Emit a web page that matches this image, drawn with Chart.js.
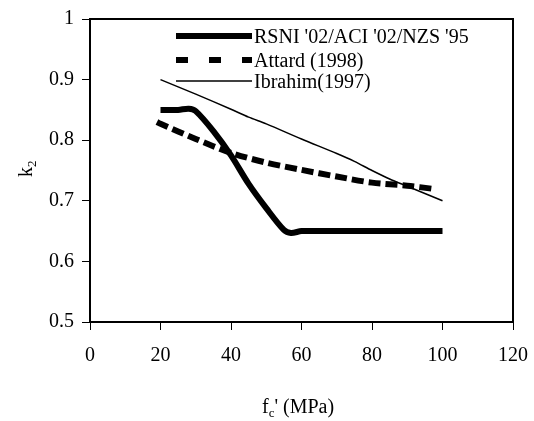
<!DOCTYPE html>
<html>
<head>
<meta charset="utf-8">
<script src="https://cdn.jsdelivr.net/npm/chart.js@4"></script>
<style>
  body { margin: 0; background: #fff; }
  #wrap { width: 534px; height: 421px; }
</style>
</head>
<body>
<div id="wrap"><canvas id="k2chart" width="534" height="421"></canvas></div>
<script>
(function(){
    var FONT = "'Liberation Serif', 'Times New Roman', serif";

    // data
    var fc_rsni = [20, 25, 28, 30, 35, 40, 45, 50, 55, 57, 60, 65, 70, 75, 80, 85, 90, 95, 100];
    var k2_rsni = [0.85, 0.85, 0.852, 0.848, 0.815, 0.775, 0.728, 0.688, 0.652, 0.647, 0.65, 0.65, 0.65, 0.65, 0.65, 0.65, 0.65, 0.65, 0.65];

    var fc_attard = [19, 20, 30, 40, 50, 60, 70, 80, 90, 97];
    var k2_attard = [0.83, 0.827, 0.802, 0.779, 0.763, 0.751, 0.74, 0.73, 0.725, 0.72];

    var fc_ibrahim = [20, 30, 40, 45, 50, 60, 70, 75, 80, 85, 90, 100];
    var k2_ibrahim = [0.9, 0.876, 0.851, 0.838, 0.827, 0.802, 0.778, 0.765, 0.75, 0.736, 0.724, 0.70];

    var labels = ["RSNI '02/ACI '02/NZS '95", 'Attard (1998)', 'Ibrahim(1997)'];
    var x_ticks = [0, 20, 40, 60, 80, 100, 120];
    var y_ticks = [0.5, 0.6, 0.7, 0.8, 0.9, 1];

    function pts(xs, ys) {
        return xs.map(function(x, i){ return {x: x, y: ys[i]}; });
    }

    const data = {
        datasets: [{
            label: labels[0],
            data: pts(fc_rsni, k2_rsni),
            borderColor: '#000',
            borderWidth: 6,
            tension: 0.3,
            pointRadius: 0
        },{
            label: labels[1],
            data: pts(fc_attard, k2_attard),
            borderColor: '#000',
            borderWidth: 6,
            borderDash: [12, 5],
            borderCapStyle: 'butt',
            tension: 0.3,
            pointRadius: 0
        },{
            label: labels[2],
            data: pts(fc_ibrahim, k2_ibrahim),
            borderColor: '#000',
            borderWidth: 1.5,
            tension: 0.3,
            pointRadius: 0
        }]
    };

    // legend inside the plot + frame + axis titles
    const decor = {
        id: 'decor',
        afterDatasetsDraw: function(chart) {
            var ctx = chart.ctx, a = chart.chartArea;
            ctx.save();
            ctx.strokeStyle = '#000';
            ctx.lineWidth = 2;
            ctx.strokeRect(a.left, a.top, a.right - a.left, a.bottom - a.top);

            // legend
            var rows = [36, 60, 81];
            var dashes = [[], [12, 21], []];
            ctx.font = '20px ' + FONT;
            ctx.fillStyle = '#000';
            ctx.textBaseline = 'middle';
            ctx.textAlign = 'left';
            chart.data.datasets.forEach(function(ds, i){
                ctx.beginPath();
                ctx.lineWidth = ds.borderWidth;
                ctx.lineCap = 'butt';
                ctx.setLineDash(dashes[i]);
                ctx.moveTo(176, rows[i]);
                ctx.lineTo(252, rows[i]);
                ctx.stroke();
                ctx.setLineDash([]);
                ctx.fillText(ds.label, 254, rows[i] + 2);
            });

            // x title: f'c (MPa)
            ctx.textBaseline = 'alphabetic';
            var xt = 262, yb = 413;
            ctx.font = '20px ' + FONT;
            ctx.fillText('f', xt, yb);
            var w = ctx.measureText('f').width;
            ctx.font = '13px ' + FONT;
            ctx.fillText('c', xt + w, yb + 4);
            var wc = ctx.measureText('c').width;
            ctx.font = '20px ' + FONT;
            ctx.fillText("' (MPa)", xt + w + wc, yb);

            // y title: k2
            ctx.translate(32, 177);
            ctx.rotate(-Math.PI / 2);
            ctx.font = '20px ' + FONT;
            ctx.fillText('k', 0, 0);
            var wk = ctx.measureText('k').width;
            ctx.font = '13px ' + FONT;
            ctx.fillText('2', wk, 4);
            ctx.restore();
        }
    };

    const config = {
        type: 'line',
        data,
        options: {
            responsive: false,
            animation: false,
            layout: { padding: { top: 19, right: 21, left: 0, bottom: 0 } },
            scales: {
                x: {
                    type: 'linear',
                    min: 0,
                    max: 120,
                    afterFit: function(s){ s.height = 99; s.paddingLeft = 0; s.paddingRight = 0; },
                    afterBuildTicks: function(s){ s.ticks = x_ticks.map(function(v){ return {value: v}; }); },
                    grid: { drawOnChartArea: false, drawTicks: true, tickLength: 8, color: '#000', lineWidth: 1 },
                    border: { display: false },
                    ticks: { color: '#000', padding: 14, font: { family: FONT, size: 20 }, maxRotation: 0 }
                },
                y: {
                    type: 'linear',
                    min: 0.5,
                    max: 1,
                    afterFit: function(s){ s.width = 90; s.paddingTop = 0; s.paddingBottom = 0; },
                    afterBuildTicks: function(s){ s.ticks = y_ticks.map(function(v){ return {value: v}; }); },
                    grid: { drawOnChartArea: false, drawTicks: true, tickLength: 8, color: '#000', lineWidth: 1 },
                    border: { display: false },
                    ticks: {
                        color: '#000',
                        padding: 8,
                        font: { family: FONT, size: 20 },
                        callback: function(value) {
                            return value === 1 ? '1' : value.toFixed(1);
                        }
                    }
                }
            },
            plugins: {
                legend: { display: false },
                tooltip: { enabled: false }
            }
        },
        plugins: [decor]
    };

    // render init block
    const myChart = new Chart(document.getElementById('k2chart'), config);
})();
</script>
</body>
</html>
